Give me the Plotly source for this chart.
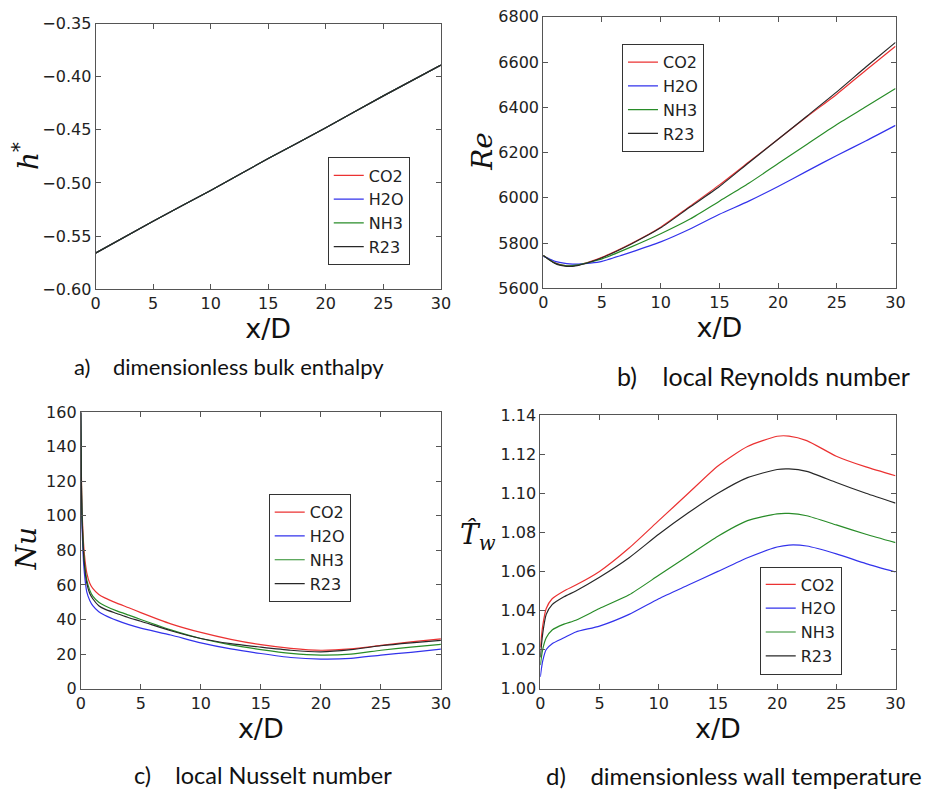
import plotly.graph_objects as go

fluids = ["CO2", "H2O", "NH3", "R23"]
colors = {"CO2": "rgb(235,50,50)", "H2O": "rgb(50,50,235)", "NH3": "rgb(40,140,40)", "R23": "rgb(40,40,40)"}

# a) dimensionless bulk enthalpy
x_h = [0, 5, 10, 15, 20, 25, 30]
h_star = {
    "CO2": [-0.566, -0.536, -0.507, -0.477, -0.448, -0.418, -0.389],
    "H2O": [-0.566, -0.536, -0.507, -0.477, -0.448, -0.418, -0.389],
    "NH3": [-0.566, -0.536, -0.507, -0.477, -0.448, -0.418, -0.389],
    "R23": [-0.566, -0.536, -0.507, -0.477, -0.448, -0.418, -0.389],
}
h_tickvals = [-0.60, -0.55, -0.50, -0.45, -0.40, -0.35]
h_ticktext = ["\u22120.60", "\u22120.55", "\u22120.50", "\u22120.45", "\u22120.40", "\u22120.35"]

# b) local Reynolds number
x_re = [0, 0.5, 1, 1.5, 2, 2.5, 3, 4, 5, 7.5, 10, 12.5, 15, 17.5, 20, 22.5, 25, 27.5, 30]
re = {
    "CO2": [5745, 5728, 5712, 5703, 5699, 5699, 5703, 5718, 5737, 5798, 5870, 5963, 6057, 6158, 6259, 6360, 6458, 6565, 6670],
    "H2O": [5742, 5730, 5719, 5713, 5709, 5707, 5707, 5711, 5719, 5760, 5805, 5862, 5927, 5985, 6050, 6119, 6187, 6252, 6320],
    "NH3": [5745, 5727, 5711, 5703, 5699, 5700, 5703, 5716, 5730, 5783, 5841, 5906, 5985, 6064, 6151, 6238, 6324, 6403, 6483],
    "R23": [5745, 5726, 5710, 5701, 5697, 5697, 5701, 5716, 5735, 5796, 5867, 5959, 6050, 6155, 6259, 6363, 6468, 6579, 6687],
}

# c) local Nusselt number
x_nu = [0, 0.05, 0.1, 0.2, 0.3, 0.5, 0.75, 1, 1.5, 2, 3, 4, 5, 7.5, 10, 12.5, 15, 17.5, 20, 22.5, 25, 27.5, 30]
nu = {
    "CO2": [160, 125, 105, 88, 78, 67, 61, 58, 54.5, 52.5, 49.5, 46.8, 44, 37.5, 32.5, 28.5, 25.4, 23.3, 22.2, 23, 25, 27, 28.8],
    "H2O": [160, 115, 95, 77, 67, 56, 51, 48, 44.5, 42.5, 39.5, 37, 35, 31, 26.5, 23, 20.3, 18, 17.1, 17.5, 19.4, 21, 22.8],
    "NH3": [160, 122, 102, 84, 74, 63, 57, 53.5, 50, 48, 45, 42.5, 40, 34, 29, 25.3, 22.6, 20.4, 19.4, 20, 22.2, 24, 25.6],
    "R23": [160, 120, 100, 82, 72, 61, 55, 52, 48, 46, 43.5, 41, 39, 33.5, 29, 26, 24, 22.2, 21.3, 22.5, 24.8, 26.5, 27.9],
}

# d) dimensionless wall temperature
x_tw = [0, 0.2, 0.5, 1, 2, 3, 5, 7.5, 10, 12.5, 15, 17.5, 20, 21, 22.5, 25, 27.5, 30]
tw = {
    "CO2": [1.021, 1.032, 1.041, 1.046, 1.050, 1.053, 1.060, 1.072, 1.086, 1.100, 1.114, 1.124, 1.1292, 1.1293, 1.1270, 1.119, 1.1135, 1.109],
    "H2O": [1.006, 1.014, 1.020, 1.023, 1.026, 1.029, 1.032, 1.038, 1.046, 1.053, 1.060, 1.067, 1.0725, 1.0735, 1.0730, 1.069, 1.064, 1.0597],
    "NH3": [1.012, 1.020, 1.026, 1.030, 1.033, 1.035, 1.041, 1.048, 1.058, 1.068, 1.078, 1.086, 1.0895, 1.0897, 1.0885, 1.0838, 1.0790, 1.0747],
    "R23": [1.016, 1.028, 1.038, 1.043, 1.047, 1.050, 1.057, 1.067, 1.079, 1.090, 1.100, 1.108, 1.1122, 1.1125, 1.1112, 1.1055, 1.1000, 1.095],
}

W, H = 938, 805
def px(v): return v / W
def py(v): return 1 - v / H

panels = [
    (x_h, h_star, "x", "y", "legend", (92, 443), (15, 287), (-0.60, -0.35), 0.05, ".2f"),
    (x_re, re, "x2", "y2", "legend2", (547, 905), (8, 286), (5600, 6800), 200, "d"),
    (x_nu, nu, "x3", "y3", "legend3", (77, 443), (413, 696), (0, 160), 20, "d"),
    (x_tw, tw, "x4", "y4", "legend4", (544, 905), (416, 696), (1.00, 1.14), 0.02, ".2f"),
]

fig = go.Figure()
layout = {}
tickfont = dict(family="DejaVu Sans", size=16, color="#222")
for i, (xs, data, xa, ya, lg, xd, yd, yr, dt, fmt) in enumerate(panels):
    for f in fluids:
        fig.add_trace(go.Scatter(
            x=xs, y=data[f], mode="lines", name=f, xaxis=xa, yaxis=ya, legend=lg,
            legendgroup=f"{lg}_{f}",
            line=dict(color=colors[f], width=1.2, shape="spline", smoothing=0.6),
        ))
    sfx = "" if i == 0 else str(i + 1)
    layout["xaxis" + sfx] = dict(
        domain=[px(xd[0]), px(xd[1])], range=[0, 30], dtick=5, anchor="y" + sfx,
        showgrid=False, zeroline=False, showline=True, linecolor="#555", linewidth=1,
        mirror="allticks", ticks="inside", ticklen=5, tickcolor="#555",
        tickfont=tickfont,
        title=dict(text="x/D", font=dict(family="DejaVu Sans", size=27, color="#111"), standoff=0),
    )
    yax = dict(
        domain=[py(yd[1]), py(yd[0])], range=list(yr), dtick=dt, tickformat=fmt, anchor="x" + sfx,
        showgrid=False, zeroline=False, showline=True, linecolor="#555", linewidth=1,
        mirror="allticks", ticks="inside", ticklen=5, tickcolor="#555",
        tickfont=tickfont,
    )
    if i == 0:
        yax.update(tickmode="array", tickvals=h_tickvals, ticktext=h_ticktext)
    layout["yaxis" + sfx] = yax

leg_pos = {"legend": (328, 152), "legend2": (627, 36), "legend3": (268, 497), "legend4": (767, 571)}
for lg, (lx, ly) in leg_pos.items():
    layout[lg] = dict(
        x=px(lx), y=py(ly), xanchor="left", yanchor="top",
        bordercolor="#333", borderwidth=1, bgcolor="white",
        font=dict(family="DejaVu Sans", size=16, color="#222"),
        itemwidth=30, tracegroupgap=0,
    )

fig.update_layout(
    width=W, height=H, margin=dict(l=0, r=0, t=0, b=0),
    paper_bgcolor="white", plot_bgcolor="white", showlegend=True,
    **layout,
)

ytitle_font = dict(family="DejaVu Serif", size=28, color="#111")
ann = [
    dict(text="<i>h</i><sup>*</sup>", x=px(22), y=py(151), textangle=-90),
    dict(text="<i>Re</i>", x=px(485), y=py(146), textangle=-90),
    dict(text="<i>Nu</i>", x=px(22), y=py(553), textangle=-90),
    dict(text="<i>T̂</i><sub><i>w</i></sub>", x=px(481), y=py(540), textangle=0),
]
for a in ann:
    fig.add_annotation(xref="paper", yref="paper", showarrow=False, font=ytitle_font,
                       xanchor="center", yanchor="middle", **a)

caps = [
    ("a)&nbsp;&nbsp;&nbsp; dimensionless bulk enthalpy", 228, 366, 22),
    ("b)&nbsp;&nbsp;&nbsp; local Reynolds number", 771, 376, 25),
    ("c)&nbsp;&nbsp;&nbsp; local Nusselt number", 262, 785, 23.5),
    ("d)&nbsp;&nbsp;&nbsp; dimensionless wall temperature", 741, 785, 24),
]
for t, cx, cy, fs in caps:
    fig.add_annotation(text=t, x=px(cx), y=py(cy), xref="paper", yref="paper", showarrow=False,
                       font=dict(family="Lato", size=fs, color="#111"), xanchor="center", yanchor="middle")

fig.write_html("out.html")
